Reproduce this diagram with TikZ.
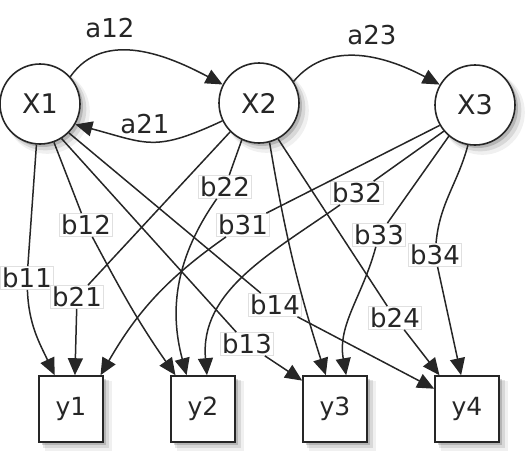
\documentclass[tikz,border=0pt]{standalone}
\usepackage{fontspec}
\setmainfont{DejaVu Sans}
\usetikzlibrary{arrows.meta,shadows,calc}
\begin{document}
\begin{tikzpicture}[x=1pt,y=-1pt,
  softshadow/.style={
    general shadow={fill=black,opacity=0.06,shadow xshift=7pt,shadow yshift=-7pt,shadow scale=1.06},
    general shadow={fill=black,opacity=0.10,shadow xshift=5pt,shadow yshift=-5pt,shadow scale=1.03},
    general shadow={fill=black,opacity=0.16,shadow xshift=3pt,shadow yshift=-3pt}},
  hstate/.style={circle,draw=black!85,line width=1.6pt,fill=white,minimum size=80pt,inner sep=0pt,font=\fontsize{27}{32}\selectfont,text=black!85,softshadow},
  obs/.style={rectangle,draw=black!85,line width=1.6pt,fill=white,minimum width=64pt,minimum height=66pt,inner sep=0pt,font=\fontsize{25}{30}\selectfont,text=black!85,softshadow},
  lab/.style={fill=white,draw=black!12,line width=0.6pt,inner sep=1.5pt,font=\fontsize{26}{30}\selectfont,text=black!85},
  alab/.style={inner sep=1pt,font=\fontsize{26}{30}\selectfont,text=black!85},
  conn/.style={draw=black!85,line width=1.5pt},
  arr/.style={conn,-{Triangle[length=17pt,width=15pt]}}
]
\useasboundingbox (0,0) rectangle (529,464);

% hidden states
\node[hstate] (X1) at (40,104) {X1};
\node[hstate] (X2) at (259,103) {X2};
\node[hstate] (X3) at (475,105) {X3};

% observations
\node[obs] (y1) at (71,409) {y1};
\node[obs] (y2) at (203,409) {y2};
\node[obs] (y3) at (335,409) {y3};
\node[obs] (y4) at (467,409) {y4};

% transition labels
\node[alab] (la12) at (110,28) {a12};
\node[alab] (la21) at (145,124) {a21};
\node[alab] (la23) at (372,35) {a23};

% transitions
\draw[arr] (X1.42) to[out=55,in=152] (X2.153);
\draw[arr] (X2.-154) to[out=-155,in=-15,looseness=1.3] (X1.-30);
\draw[arr] (X2.32) to[out=50,in=152] (X3.150);

% emission labels
\node[lab] (l11) at (27,278) {b11};
\node[lab] (l12) at (86,225) {b12};
\node[lab] (l13) at (247,344) {b13};
\node[lab] (l14) at (275,305) {b14};
\node[lab] (l21) at (77,297) {b21};
\node[lab] (l22) at (225,187) {b22};
\node[lab] (l24) at (395,318) {b24};
\node[lab] (l31) at (243,225) {b31};
\node[lab] (l32) at (357,193) {b32};
\node[lab] (l33) at (379,235) {b33};
\node[lab] (l34) at (435,255) {b34};

% emissions from X1
\draw[conn] (X1.-95) -- (l11);
\draw[arr] (l11) to[out=-88,in=115] ($(y1.north west)!0.25!(y1.north east)$);
\draw[conn] (X1.-70) -- (l12);
\draw[arr] (l12) to[out=-62,in=125] ($(y2.north west)!0.08!(y2.north east)$);
\draw[conn] (X1.-58) -- (l13);
\draw[arr] (l13) -- ($(y3.north west)!0.08!(y3.south west)$);
\draw[conn] (X1.-45) -- (l14);
\draw[arr] (l14) -- ($(y4.north west)!0.2!(y4.south west)$);

% emissions from X2
\draw[conn] (X2.-135) -- (l21);
\draw[arr] (l21) -- ($(y1.north west)!0.56!(y1.north east)$);
\draw[conn] (X2.-115) -- (l22);
\draw[arr] (l22) to[out=-125,in=105] ($(y2.north west)!0.25!(y2.north east)$);
\draw[arr] (X2.-75) to[bend right=4] ($(y3.north west)!0.36!(y3.north east)$);
\draw[conn] (X2.-62) -- (l24);
\draw[arr] (l24) -- ($(y4.north west)!0.08!(y4.north east)$);

% emissions from X3
\draw[conn] (X3.-150) -- (l31);
\draw[arr] (l31) to[out=-145,in=60] ($(y1.north west)!0.95!(y1.north east)$);
\draw[conn] (X3.-140) -- (l32);
\draw[arr] (l32) to[out=-145,in=95] ($(y2.north west)!0.56!(y2.north east)$);
\draw[conn] (X3.-130) -- (l33);
\draw[arr] (l33) to[out=-105,in=100] ($(y3.north west)!0.67!(y3.north east)$);
\draw[conn] (X3.-100) to[out=-105,in=85] (l34);
\draw[arr] (l34) -- ($(y4.north west)!0.41!(y4.north east)$);
\end{tikzpicture}
\end{document}
